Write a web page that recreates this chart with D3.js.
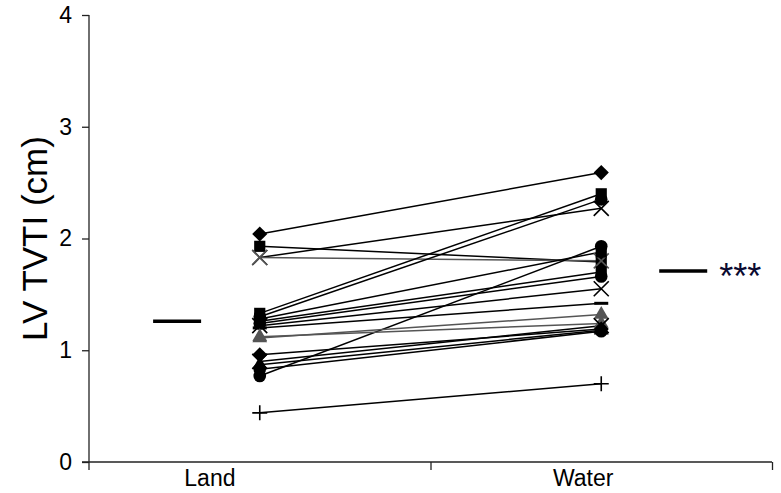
<!DOCTYPE html>
<html>
<head>
<meta charset="utf-8">
<script src="https://cdn.jsdelivr.net/npm/d3@7"></script>
<style>
    body { margin: 0; background: #fff; }
    svg { display: block; font-family: 'Liberation Sans', Arial, sans-serif; }
</style>
</head>
<body>
<svg width="781" height="493"></svg>
<script>
// paired measurements, one entry per subject
const landValues = [2.04, 1.93, 1.83, 1.83, 1.33, 1.30, 0.77, 1.28, 1.26, 1.24, 1.22, 1.20, 1.11, 1.12, 0.96, 0.90, 0.87, 0.83, 0.44];
const waterValues = [2.59, 1.79, 2.27, 1.80, 2.40, 2.35, 1.93, 1.88, 1.70, 1.66, 1.55, 1.42, 1.32, 1.24, 1.19, 1.22, 1.18, 1.17, 0.70];
const markers = ['diamond', 'square', 'cross', 'cross', 'square', 'circle', 'circle', 'square', 'square', 'circle', 'cross', 'dash', 'triangle', 'triangle', 'diamond', 'cross', 'triangle', 'circle', 'plus'];
const shades = ['#000', '#000', '#000', '#555', '#000', '#000', '#000', '#000', '#000', '#000', '#000', '#000', '#555', '#555', '#000', '#000', '#000', '#000', '#000'];
const categories = ['Land', 'Water'];
const means = [1.26, 1.71];
const yTicks = [0, 1, 2, 3, 4];
const yLabel = 'LV TVTI (cm)';
const sigLabel = '***';

const svg = d3.select('svg');

const x = d3.scaleLinear().domain([0, 2]).range([89, 772]);
const y = d3.scaleLinear().domain([0, 4]).range([462, 15]);

// category positions on the x scale
const pos = [0.5, 1.5];
const labelPos = [0.354, 1.447];
const meanPos = [0.258, 1.74];

// y axis
const yAxis = svg.append('g')
    .attr('transform', `translate(${x(0)},0)`)
    .call(d3.axisLeft(y).tickValues(yTicks).tickSize(7).tickPadding(10).tickFormat(d3.format('d')));
yAxis.select('.domain').remove();
yAxis.selectAll('.tick line').attr('stroke', '#222').attr('stroke-width', 1.3);
yAxis.selectAll('.tick text').attr('font-size', 23).attr('fill', '#000')
    .attr('font-family', "'Liberation Sans', Arial, sans-serif");
svg.append('line')
    .attr('x1', x(0)).attr('x2', x(0))
    .attr('y1', y(4)).attr('y2', y(0) + 8)
    .attr('stroke', '#222').attr('stroke-width', 1.3);

// x axis
const xAxis = svg.append('g')
    .attr('transform', `translate(0,${y(0)})`)
    .call(d3.axisBottom(x).tickValues([1, 2]).tickSize(8).tickFormat(''));
xAxis.select('.domain').remove();
xAxis.selectAll('.tick line').attr('stroke', '#222').attr('stroke-width', 1.3);
svg.append('line')
    .attr('x1', x(0) - 7).attr('x2', x(2))
    .attr('y1', y(0)).attr('y2', y(0))
    .attr('stroke', '#222').attr('stroke-width', 1.3);

svg.selectAll('.cat')
    .data(categories)
    .enter()
    .append('text')
    .attr('class', 'cat')
    .attr('x', (d, i) => x(labelPos[i]))
    .attr('y', y(0) + 24)
    .attr('text-anchor', 'middle')
    .attr('font-size', 23)
    .text(d => d);

svg.append('text')
    .attr('transform', `translate(47,${(y(0) + y(4)) / 2}) rotate(-90)`)
    .attr('text-anchor', 'middle')
    .attr('font-size', 35)
    .text(yLabel);

// paired lines
const pairs = landValues.map((v, i) => ({ land: v, water: waterValues[i], marker: markers[i], color: shades[i] }));

svg.append('g')
    .selectAll('line')
    .data(pairs)
    .enter()
    .append('line')
    .attr('x1', x(pos[0]))
    .attr('x2', x(pos[1]))
    .attr('y1', d => y(d.land))
    .attr('y2', d => y(d.water))
    .attr('stroke', d => d.color)
    .attr('stroke-width', 1.5);

const symbolPath = {
    diamond: d3.symbol().type(d3.symbolSquare).size(115),
    square: d3.symbol().type(d3.symbolSquare).size(125),
    circle: d3.symbol().type(d3.symbolCircle).size(125),
    triangle: d3.symbol().type(d3.symbolTriangle).size(95)
};

function drawMarker(g, d, cx, cy) {
    const m = g.append('g').attr('transform', `translate(${cx},${cy})`);
    if (d.marker === 'cross' || d.marker === 'plus') {
        const r = 7.5;
        const p = d.marker === 'cross'
            ? `M${-r},${-r}L${r},${r}M${-r},${r}L${r},${-r}`
            : `M${-r},0L${r},0M0,${-r}L0,${r}`;
        m.append('path').attr('d', p).attr('stroke', d.color).attr('stroke-width', 1.6).attr('fill', 'none');
    } else if (d.marker === 'dash') {
        m.append('path').attr('d', 'M-7,0L7,0').attr('stroke', d.color).attr('stroke-width', 3);
    } else {
        m.append('path')
            .attr('d', symbolPath[d.marker]())
            .attr('transform', d.marker === 'diamond' ? 'rotate(45)' : null)
            .attr('fill', d.color);
    }
}

const markG = svg.append('g');
pairs.forEach(d => {
    drawMarker(markG, d, x(pos[0]), y(d.land));
    drawMarker(markG, d, x(pos[1]), y(d.water));
});

// group means
svg.append('g')
    .selectAll('line')
    .data(means)
    .enter()
    .append('line')
    .attr('x1', (d, i) => x(meanPos[i]) - 24)
    .attr('x2', (d, i) => x(meanPos[i]) + 24)
    .attr('y1', d => y(d))
    .attr('y2', d => y(d))
    .attr('stroke', '#000')
    .attr('stroke-width', 3.5);

svg.append('text')
    .attr('x', x(meanPos[1]) + 36)
    .attr('y', y(means[1]) + 18)
    .attr('font-size', 36)
    .attr('fill', '#0a0a30')
    .text(sigLabel);
</script>
</body>
</html>
